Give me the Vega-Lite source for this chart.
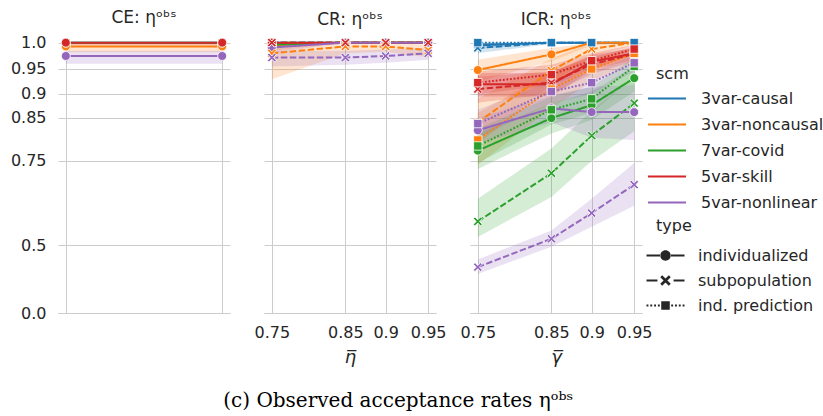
{
  "$schema": "https://vega.github.io/schema/vega-lite/v6.json",
  "padding": {"left": 10, "top": 8, "right": 5, "bottom": 8},
  "background": "white",
  "spacing": 34,
  "bounds": "flush",
  "title": {"text": "(c) Observed acceptance rates ηᵒᵇˢ", "orient": "bottom", "font": "DejaVu Serif", "fontSize": 20, "fontWeight": "normal", "color": "#000000", "anchor": "middle", "offset": 25, "dx": -19},
  "datasets": {
    "ce": [
      {"scm": "3var-causal", "type": "individualized", "x": 0, "y": 1.0, "lo": 1.0, "hi": 1.0},
      {"scm": "3var-causal", "type": "individualized", "x": 1, "y": 1.0, "lo": 1.0, "hi": 1.0},
      {"scm": "3var-noncausal", "type": "individualized", "x": 0, "y": 0.993, "lo": 0.982, "hi": 1.0},
      {"scm": "3var-noncausal", "type": "individualized", "x": 1, "y": 0.993, "lo": 0.982, "hi": 1.0},
      {"scm": "7var-covid", "type": "individualized", "x": 0, "y": 1.0, "lo": 1.0, "hi": 1.0},
      {"scm": "7var-covid", "type": "individualized", "x": 1, "y": 1.0, "lo": 1.0, "hi": 1.0},
      {"scm": "5var-skill", "type": "individualized", "x": 0, "y": 1.0, "lo": 0.995, "hi": 1.0},
      {"scm": "5var-skill", "type": "individualized", "x": 1, "y": 1.0, "lo": 0.995, "hi": 1.0},
      {"scm": "5var-nonlinear", "type": "individualized", "x": 0, "y": 0.975, "lo": 0.96, "hi": 0.985},
      {"scm": "5var-nonlinear", "type": "individualized", "x": 1, "y": 0.975, "lo": 0.96, "hi": 0.985}
    ],
    "cr": [
      {"scm": "3var-causal", "type": "individualized", "x": 0.75, "y": 1.0, "lo": 1.0, "hi": 1.0},
      {"scm": "3var-causal", "type": "individualized", "x": 0.85, "y": 1.0, "lo": 1.0, "hi": 1.0},
      {"scm": "3var-causal", "type": "individualized", "x": 0.9, "y": 1.0, "lo": 1.0, "hi": 1.0},
      {"scm": "3var-causal", "type": "individualized", "x": 0.95, "y": 1.0, "lo": 1.0, "hi": 1.0},
      {"scm": "3var-causal", "type": "subpopulation", "x": 0.75, "y": 1.0, "lo": 1.0, "hi": 1.0},
      {"scm": "3var-causal", "type": "subpopulation", "x": 0.85, "y": 1.0, "lo": 1.0, "hi": 1.0},
      {"scm": "3var-causal", "type": "subpopulation", "x": 0.9, "y": 1.0, "lo": 1.0, "hi": 1.0},
      {"scm": "3var-causal", "type": "subpopulation", "x": 0.95, "y": 1.0, "lo": 1.0, "hi": 1.0},
      {"scm": "3var-noncausal", "type": "individualized", "x": 0.75, "y": 0.995, "lo": 0.985, "hi": 1.0},
      {"scm": "3var-noncausal", "type": "individualized", "x": 0.85, "y": 1.0, "lo": 1.0, "hi": 1.0},
      {"scm": "3var-noncausal", "type": "individualized", "x": 0.9, "y": 1.0, "lo": 1.0, "hi": 1.0},
      {"scm": "3var-noncausal", "type": "individualized", "x": 0.95, "y": 1.0, "lo": 1.0, "hi": 1.0},
      {"scm": "3var-noncausal", "type": "subpopulation", "x": 0.75, "y": 0.98, "lo": 0.93, "hi": 1.0},
      {"scm": "3var-noncausal", "type": "subpopulation", "x": 0.85, "y": 0.993, "lo": 0.98, "hi": 1.0},
      {"scm": "3var-noncausal", "type": "subpopulation", "x": 0.9, "y": 0.993, "lo": 0.983, "hi": 1.0},
      {"scm": "3var-noncausal", "type": "subpopulation", "x": 0.95, "y": 0.986, "lo": 0.972, "hi": 0.996},
      {"scm": "7var-covid", "type": "individualized", "x": 0.75, "y": 0.996, "lo": 0.99, "hi": 1.0},
      {"scm": "7var-covid", "type": "individualized", "x": 0.85, "y": 1.0, "lo": 1.0, "hi": 1.0},
      {"scm": "7var-covid", "type": "individualized", "x": 0.9, "y": 1.0, "lo": 1.0, "hi": 1.0},
      {"scm": "7var-covid", "type": "individualized", "x": 0.95, "y": 1.0, "lo": 1.0, "hi": 1.0},
      {"scm": "7var-covid", "type": "subpopulation", "x": 0.75, "y": 1.0, "lo": 1.0, "hi": 1.0},
      {"scm": "7var-covid", "type": "subpopulation", "x": 0.85, "y": 1.0, "lo": 1.0, "hi": 1.0},
      {"scm": "7var-covid", "type": "subpopulation", "x": 0.9, "y": 1.0, "lo": 1.0, "hi": 1.0},
      {"scm": "7var-covid", "type": "subpopulation", "x": 0.95, "y": 1.0, "lo": 1.0, "hi": 1.0},
      {"scm": "5var-skill", "type": "individualized", "x": 0.75, "y": 1.0, "lo": 1.0, "hi": 1.0},
      {"scm": "5var-skill", "type": "individualized", "x": 0.85, "y": 1.0, "lo": 1.0, "hi": 1.0},
      {"scm": "5var-skill", "type": "individualized", "x": 0.9, "y": 1.0, "lo": 1.0, "hi": 1.0},
      {"scm": "5var-skill", "type": "individualized", "x": 0.95, "y": 1.0, "lo": 1.0, "hi": 1.0},
      {"scm": "5var-skill", "type": "subpopulation", "x": 0.75, "y": 1.0, "lo": 1.0, "hi": 1.0},
      {"scm": "5var-skill", "type": "subpopulation", "x": 0.85, "y": 1.0, "lo": 1.0, "hi": 1.0},
      {"scm": "5var-skill", "type": "subpopulation", "x": 0.9, "y": 1.0, "lo": 1.0, "hi": 1.0},
      {"scm": "5var-skill", "type": "subpopulation", "x": 0.95, "y": 1.0, "lo": 1.0, "hi": 1.0},
      {"scm": "5var-nonlinear", "type": "individualized", "x": 0.75, "y": 0.991, "lo": 0.98, "hi": 1.0},
      {"scm": "5var-nonlinear", "type": "individualized", "x": 0.85, "y": 1.0, "lo": 1.0, "hi": 1.0},
      {"scm": "5var-nonlinear", "type": "individualized", "x": 0.9, "y": 1.0, "lo": 1.0, "hi": 1.0},
      {"scm": "5var-nonlinear", "type": "individualized", "x": 0.95, "y": 1.0, "lo": 1.0, "hi": 1.0},
      {"scm": "5var-nonlinear", "type": "subpopulation", "x": 0.75, "y": 0.972, "lo": 0.955, "hi": 0.985},
      {"scm": "5var-nonlinear", "type": "subpopulation", "x": 0.85, "y": 0.972, "lo": 0.958, "hi": 0.985},
      {"scm": "5var-nonlinear", "type": "subpopulation", "x": 0.9, "y": 0.975, "lo": 0.962, "hi": 0.987},
      {"scm": "5var-nonlinear", "type": "subpopulation", "x": 0.95, "y": 0.98, "lo": 0.968, "hi": 0.99}
    ],
    "icr": [
      {"scm": "3var-causal", "type": "individualized", "x": 0.75, "y": 0.995, "lo": 0.988, "hi": 1.0},
      {"scm": "3var-causal", "type": "individualized", "x": 0.85, "y": 1.0, "lo": 1.0, "hi": 1.0},
      {"scm": "3var-causal", "type": "individualized", "x": 0.9, "y": 1.0, "lo": 1.0, "hi": 1.0},
      {"scm": "3var-causal", "type": "individualized", "x": 0.95, "y": 1.0, "lo": 1.0, "hi": 1.0},
      {"scm": "3var-causal", "type": "subpopulation", "x": 0.75, "y": 0.99, "lo": 0.98, "hi": 1.0},
      {"scm": "3var-causal", "type": "subpopulation", "x": 0.85, "y": 1.0, "lo": 0.998, "hi": 1.0},
      {"scm": "3var-causal", "type": "subpopulation", "x": 0.9, "y": 1.0, "lo": 1.0, "hi": 1.0},
      {"scm": "3var-causal", "type": "subpopulation", "x": 0.95, "y": 1.0, "lo": 1.0, "hi": 1.0},
      {"scm": "3var-causal", "type": "ind. prediction", "x": 0.75, "y": 1.0, "lo": 0.995, "hi": 1.0},
      {"scm": "3var-causal", "type": "ind. prediction", "x": 0.85, "y": 1.0, "lo": 1.0, "hi": 1.0},
      {"scm": "3var-causal", "type": "ind. prediction", "x": 0.9, "y": 1.0, "lo": 1.0, "hi": 1.0},
      {"scm": "3var-causal", "type": "ind. prediction", "x": 0.95, "y": 1.0, "lo": 1.0, "hi": 1.0},
      {"scm": "3var-noncausal", "type": "individualized", "x": 0.75, "y": 0.948, "lo": 0.925, "hi": 0.968},
      {"scm": "3var-noncausal", "type": "individualized", "x": 0.85, "y": 0.978, "lo": 0.965, "hi": 0.99},
      {"scm": "3var-noncausal", "type": "individualized", "x": 0.9, "y": 1.0, "lo": 0.995, "hi": 1.0},
      {"scm": "3var-noncausal", "type": "individualized", "x": 0.95, "y": 1.0, "lo": 1.0, "hi": 1.0},
      {"scm": "3var-noncausal", "type": "subpopulation", "x": 0.75, "y": 0.84, "lo": 0.79, "hi": 0.89},
      {"scm": "3var-noncausal", "type": "subpopulation", "x": 0.85, "y": 0.947, "lo": 0.92, "hi": 0.97},
      {"scm": "3var-noncausal", "type": "subpopulation", "x": 0.9, "y": 0.988, "lo": 0.975, "hi": 1.0},
      {"scm": "3var-noncausal", "type": "subpopulation", "x": 0.95, "y": 1.0, "lo": 0.995, "hi": 1.0},
      {"scm": "3var-noncausal", "type": "ind. prediction", "x": 0.75, "y": 0.8, "lo": 0.74, "hi": 0.86},
      {"scm": "3var-noncausal", "type": "ind. prediction", "x": 0.85, "y": 0.91, "lo": 0.87, "hi": 0.945},
      {"scm": "3var-noncausal", "type": "ind. prediction", "x": 0.9, "y": 0.95, "lo": 0.925, "hi": 0.972},
      {"scm": "3var-noncausal", "type": "ind. prediction", "x": 0.95, "y": 0.98, "lo": 0.965, "hi": 0.993},
      {"scm": "7var-covid", "type": "individualized", "x": 0.75, "y": 0.775, "lo": 0.73, "hi": 0.815},
      {"scm": "7var-covid", "type": "individualized", "x": 0.85, "y": 0.849, "lo": 0.815, "hi": 0.88},
      {"scm": "7var-covid", "type": "individualized", "x": 0.9, "y": 0.877, "lo": 0.845, "hi": 0.905},
      {"scm": "7var-covid", "type": "individualized", "x": 0.95, "y": 0.932, "lo": 0.905, "hi": 0.955},
      {"scm": "7var-covid", "type": "subpopulation", "x": 0.75, "y": 0.582, "lo": 0.53, "hi": 0.65},
      {"scm": "7var-covid", "type": "subpopulation", "x": 0.85, "y": 0.719, "lo": 0.655, "hi": 0.78},
      {"scm": "7var-covid", "type": "subpopulation", "x": 0.9, "y": 0.81, "lo": 0.75, "hi": 0.865},
      {"scm": "7var-covid", "type": "subpopulation", "x": 0.95, "y": 0.881, "lo": 0.82, "hi": 0.935},
      {"scm": "7var-covid", "type": "ind. prediction", "x": 0.75, "y": 0.786, "lo": 0.745, "hi": 0.825},
      {"scm": "7var-covid", "type": "ind. prediction", "x": 0.85, "y": 0.867, "lo": 0.835, "hi": 0.895},
      {"scm": "7var-covid", "type": "ind. prediction", "x": 0.9, "y": 0.89, "lo": 0.86, "hi": 0.915},
      {"scm": "7var-covid", "type": "ind. prediction", "x": 0.95, "y": 0.955, "lo": 0.935, "hi": 0.972},
      {"scm": "5var-skill", "type": "individualized", "x": 0.75, "y": 0.92, "lo": 0.895, "hi": 0.942},
      {"scm": "5var-skill", "type": "individualized", "x": 0.85, "y": 0.92, "lo": 0.895, "hi": 0.942},
      {"scm": "5var-skill", "type": "individualized", "x": 0.9, "y": 0.964, "lo": 0.948, "hi": 0.978},
      {"scm": "5var-skill", "type": "individualized", "x": 0.95, "y": 0.98, "lo": 0.968, "hi": 0.99},
      {"scm": "5var-skill", "type": "subpopulation", "x": 0.75, "y": 0.91, "lo": 0.882, "hi": 0.935},
      {"scm": "5var-skill", "type": "subpopulation", "x": 0.85, "y": 0.923, "lo": 0.9, "hi": 0.945},
      {"scm": "5var-skill", "type": "subpopulation", "x": 0.9, "y": 0.959, "lo": 0.94, "hi": 0.975},
      {"scm": "5var-skill", "type": "subpopulation", "x": 0.95, "y": 0.979, "lo": 0.965, "hi": 0.99},
      {"scm": "5var-skill", "type": "ind. prediction", "x": 0.75, "y": 0.923, "lo": 0.9, "hi": 0.945},
      {"scm": "5var-skill", "type": "ind. prediction", "x": 0.85, "y": 0.939, "lo": 0.918, "hi": 0.958},
      {"scm": "5var-skill", "type": "ind. prediction", "x": 0.9, "y": 0.966, "lo": 0.95, "hi": 0.98},
      {"scm": "5var-skill", "type": "ind. prediction", "x": 0.95, "y": 0.988, "lo": 0.978, "hi": 0.996},
      {"scm": "5var-nonlinear", "type": "individualized", "x": 0.75, "y": 0.822, "lo": 0.79, "hi": 0.85},
      {"scm": "5var-nonlinear", "type": "individualized", "x": 0.85, "y": 0.87, "lo": 0.84, "hi": 0.897},
      {"scm": "5var-nonlinear", "type": "individualized", "x": 0.9, "y": 0.862, "lo": 0.805, "hi": 0.915},
      {"scm": "5var-nonlinear", "type": "individualized", "x": 0.95, "y": 0.862, "lo": 0.8, "hi": 0.918},
      {"scm": "5var-nonlinear", "type": "subpopulation", "x": 0.75, "y": 0.412, "lo": 0.38, "hi": 0.445},
      {"scm": "5var-nonlinear", "type": "subpopulation", "x": 0.85, "y": 0.524, "lo": 0.495, "hi": 0.552},
      {"scm": "5var-nonlinear", "type": "subpopulation", "x": 0.9, "y": 0.608, "lo": 0.565, "hi": 0.65},
      {"scm": "5var-nonlinear", "type": "subpopulation", "x": 0.95, "y": 0.689, "lo": 0.63, "hi": 0.745},
      {"scm": "5var-nonlinear", "type": "ind. prediction", "x": 0.75, "y": 0.837, "lo": 0.805, "hi": 0.867},
      {"scm": "5var-nonlinear", "type": "ind. prediction", "x": 0.85, "y": 0.905, "lo": 0.88, "hi": 0.927},
      {"scm": "5var-nonlinear", "type": "ind. prediction", "x": 0.9, "y": 0.923, "lo": 0.9, "hi": 0.943},
      {"scm": "5var-nonlinear", "type": "ind. prediction", "x": 0.95, "y": 0.962, "lo": 0.945, "hi": 0.977}
    ]
  },
  "hconcat": [
    {
      "width": 172, "height": 272,
      "title": {"text": "CE: ηᵒᵇˢ"},
      "data": {"name": "ce"},
      "layer": [
        {"mark": {"type": "area", "opacity": 0.2},
         "encoding": {
           "x": {"field": "x", "type": "quantitative", "scale": {"domain": [-0.05, 1.05], "nice": false, "zero": false}, "axis": {"values": [0, 1], "labels": false, "title": null, "domain": true, "domainColor": "#cccccc"}},
           "y": {"field": "lo", "type": "quantitative", "scale": {"type": "pow", "exponent": 2, "domain": [0, 1.003], "nice": false}, "axis": {"values": [0, 0.5, 0.75, 0.85, 0.9, 0.95, 1.0], "title": null, "labelPadding": 12, "labelExpr": "datum.value == 0 ? '0.0' : datum.value == 1 ? '1.0' : format(datum.value, '.2~f')"}},
           "y2": {"field": "hi"},
           "color": {"field": "scm", "type": "nominal", "scale": {"domain": ["3var-causal", "3var-noncausal", "7var-covid", "5var-skill", "5var-nonlinear"], "range": ["#1f77b4", "#ff7f0e", "#2ca02c", "#d62728", "#9467bd"]}},
           "detail": {"field": "type"}
         }},
        {"mark": {"type": "line", "strokeWidth": 2},
         "encoding": {
           "x": {"field": "x", "type": "quantitative"},
           "y": {"field": "y", "type": "quantitative"},
           "color": {"field": "scm", "type": "nominal", "legend": {"title": " scm", "orient": "none", "legendX": 598, "legendY": 25, "symbolType": "M-2,0H2", "symbolSize": 361, "labelOffset": 23, "rowPadding": 7, "titlePadding": 5.5, "encode": {"symbols": {"update": {"stroke": {"scale": "color", "field": "value"}, "fill": {"value": "transparent"}, "opacity": {"value": 1}, "strokeWidth": {"value": 2.2}}}}}},
           "strokeDash": {"field": "type", "type": "nominal", "scale": {"domain": ["individualized", "subpopulation", "ind. prediction"], "range": [[1, 0], [6.5, 2.5], [1.8, 1.8]]}, "legend": {"title": " type", "orient": "none", "legendX": 598, "legendY": 177, "symbolSize": 361, "labelOffset": 23, "rowPadding": 7, "titlePadding": 12, "encode": {"symbols": {"update": {"shape": {"signal": "datum.value === 'individualized' ? 'M-2,-0.1H-0.5V0.1H-2ZM0.5,-0.1H2V0.1H0.5ZM-0.55,0A0.55,0.55,0,1,0,0.55,0A0.55,0.55,0,1,0,-0.55,0Z' : datum.value === 'subpopulation' ? 'M-2,-0.11H-0.85V0.11H-2ZM0.85,-0.11H2V0.11H0.85ZM-0.55,-0.35L-0.35,-0.55L0,-0.2L0.35,-0.55L0.55,-0.35L0.2,0L0.55,0.35L0.35,0.55L0,0.2L-0.35,0.55L-0.55,0.35L-0.2,0Z' : 'M-2,-0.1h0.2v0.2h-0.2zM-1.6,-0.1h0.2v0.2h-0.2zM-1.2,-0.1h0.2v0.2h-0.2zM-0.8,-0.1h0.2v0.2h-0.2zM0.6,-0.1h0.2v0.2h-0.2zM1,-0.1h0.2v0.2h-0.2zM1.4,-0.1h0.2v0.2h-0.2zM1.8,-0.1h0.2v0.2h-0.2zM-0.45,-0.45H0.45V0.45H-0.45Z'"}, "size": {"value": 361}, "fill": {"value": "#262626"}, "stroke": {"value": "transparent"}, "opacity": {"value": 1}, "strokeWidth": {"value": 0}}}}}}
         }},
        {"mark": {"type": "point", "shape": "circle", "filled": true, "opacity": 1, "stroke": "white", "strokeWidth": 0.8, "size": 80},
         "encoding": {
           "x": {"field": "x", "type": "quantitative"},
           "y": {"field": "y", "type": "quantitative"},
           "color": {"field": "scm", "type": "nominal"}
         }}
      ]
    },
    {
      "width": 172, "height": 272,
      "title": {"text": "CR: ηᵒᵇˢ"},
      "data": {"name": "cr"},
      "layer": [
        {"mark": {"type": "area", "opacity": 0.2},
         "encoding": {
           "x": {"field": "x", "type": "quantitative", "scale": {"type": "pow", "exponent": 2, "domain": [0.7386, 0.9589], "nice": false, "zero": false}, "axis": {"values": [0.75, 0.85, 0.9, 0.95], "title": "η̅", "labelExpr": "format(datum.value, '.2~f')", "domain": true, "domainColor": "#cccccc", "labelPadding": 11, "titlePadding": 8, "titleFontStyle": "italic", "titleFontSize": 18}},
           "y": {"field": "lo", "type": "quantitative", "scale": {"type": "pow", "exponent": 2, "domain": [0, 1.003], "nice": false}, "axis": {"values": [0, 0.5, 0.75, 0.85, 0.9, 0.95, 1.0], "title": null, "labels": false}},
           "y2": {"field": "hi"},
           "color": {"field": "scm", "type": "nominal"},
           "detail": {"field": "type"}
         }},
        {"mark": {"type": "line", "strokeWidth": 2},
         "encoding": {
           "x": {"field": "x", "type": "quantitative"},
           "y": {"field": "y", "type": "quantitative"},
           "color": {"field": "scm", "type": "nominal"},
           "strokeDash": {"field": "type", "type": "nominal"}
         }},
        {"transform": [{"filter": "datum.type === 'individualized'"}],
         "mark": {"type": "point", "shape": "circle", "filled": true, "opacity": 1, "stroke": "white", "strokeWidth": 0.8, "size": 80},
         "encoding": {
           "x": {"field": "x", "type": "quantitative"},
           "y": {"field": "y", "type": "quantitative"},
           "color": {"field": "scm", "type": "nominal"}
         }},
        {"transform": [{"filter": "datum.type === 'subpopulation'"}],
         "mark": {"type": "point", "shape": "M-1,-0.64L-0.64,-1L0,-0.36L0.64,-1L1,-0.64L0.36,0L1,0.64L0.64,1L0,0.36L-0.64,1L-1,0.64L-0.36,0Z", "filled": true, "opacity": 1, "stroke": "white", "strokeWidth": 0.8, "size": 80},
         "encoding": {
           "x": {"field": "x", "type": "quantitative"},
           "y": {"field": "y", "type": "quantitative"},
           "color": {"field": "scm", "type": "nominal"}
         }}
      ]
    },
    {
      "width": 172, "height": 272,
      "title": {"text": "ICR: ηᵒᵇˢ"},
      "data": {"name": "icr"},
      "layer": [
        {"mark": {"type": "area", "opacity": 0.2},
         "encoding": {
           "x": {"field": "x", "type": "quantitative", "scale": {"type": "pow", "exponent": 2, "domain": [0.7386, 0.9589], "nice": false, "zero": false}, "axis": {"values": [0.75, 0.85, 0.9, 0.95], "title": "γ̅", "labelExpr": "format(datum.value, '.2~f')", "domain": true, "domainColor": "#cccccc", "labelPadding": 11, "titlePadding": 8, "titleFontStyle": "italic", "titleFontSize": 18}},
           "y": {"field": "lo", "type": "quantitative", "scale": {"type": "pow", "exponent": 2, "domain": [0, 1.003], "nice": false}, "axis": {"values": [0, 0.5, 0.75, 0.85, 0.9, 0.95, 1.0], "title": null, "labels": false}},
           "y2": {"field": "hi"},
           "color": {"field": "scm", "type": "nominal"},
           "detail": {"field": "type"}
         }},
        {"mark": {"type": "line", "strokeWidth": 2},
         "encoding": {
           "x": {"field": "x", "type": "quantitative"},
           "y": {"field": "y", "type": "quantitative"},
           "color": {"field": "scm", "type": "nominal"},
           "strokeDash": {"field": "type", "type": "nominal"}
         }},
        {"transform": [{"filter": "datum.type === 'individualized'"}],
         "mark": {"type": "point", "shape": "circle", "filled": true, "opacity": 1, "stroke": "white", "strokeWidth": 0.8, "size": 80},
         "encoding": {
           "x": {"field": "x", "type": "quantitative"},
           "y": {"field": "y", "type": "quantitative"},
           "color": {"field": "scm", "type": "nominal"}
         }},
        {"transform": [{"filter": "datum.type === 'subpopulation'"}],
         "mark": {"type": "point", "shape": "M-1,-0.64L-0.64,-1L0,-0.36L0.64,-1L1,-0.64L0.36,0L1,0.64L0.64,1L0,0.36L-0.64,1L-1,0.64L-0.36,0Z", "filled": true, "opacity": 1, "stroke": "white", "strokeWidth": 0.8, "size": 80},
         "encoding": {
           "x": {"field": "x", "type": "quantitative"},
           "y": {"field": "y", "type": "quantitative"},
           "color": {"field": "scm", "type": "nominal"}
         }},
        {"transform": [{"filter": "datum.type === 'ind. prediction'"}],
         "mark": {"type": "point", "shape": "square", "filled": true, "opacity": 1, "stroke": "white", "strokeWidth": 0.8, "size": 70},
         "encoding": {
           "x": {"field": "x", "type": "quantitative"},
           "y": {"field": "y", "type": "quantitative"},
           "color": {"field": "scm", "type": "nominal"}
         }}
      ]
    }
  ],
  "config": {
    "font": "DejaVu Sans",
    "view": {"stroke": null},
    "axis": {"gridColor": "#cccccc", "gridWidth": 1, "labelFont": "DejaVu Sans", "labelFontSize": 16, "labelColor": "#262626", "titleColor": "#262626", "titleFont": "DejaVu Sans", "titleFontWeight": "normal", "ticks": false, "domain": false, "grid": true},
    "title": {"font": "DejaVu Sans", "fontSize": 17, "fontWeight": "normal", "color": "#262626", "offset": 8},
    "legend": {"labelFont": "DejaVu Sans", "labelFontSize": 16, "labelColor": "#262626", "titleFont": "DejaVu Sans", "titleFontSize": 16, "titleFontWeight": "normal", "titleColor": "#262626", "padding": 0, "symbolOpacity": 1}
  }
}
